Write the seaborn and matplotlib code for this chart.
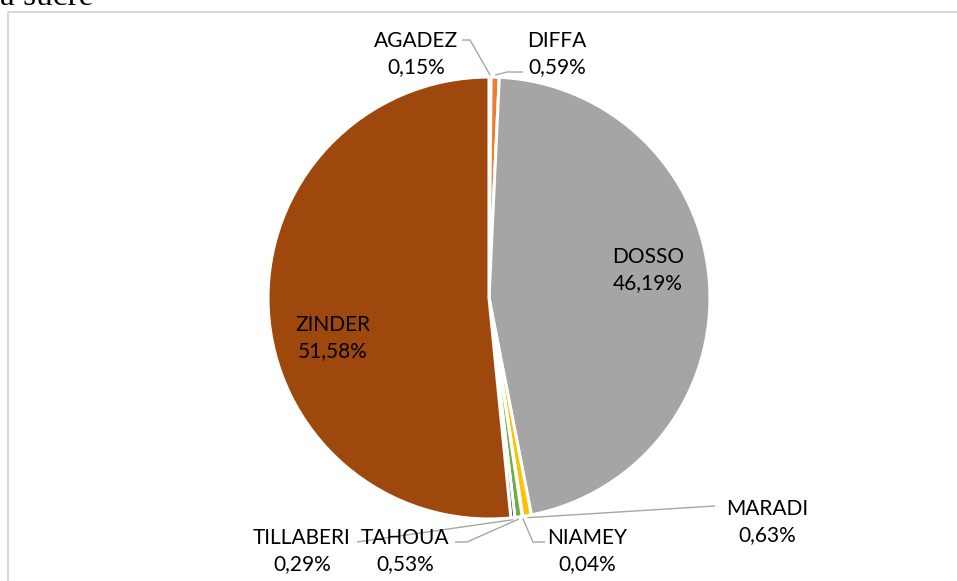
import matplotlib
matplotlib.use("Agg")
import numpy as np
import matplotlib.pyplot as plt
import seaborn as sns

# données : répartition par région (%)
regions = ["AGADEZ", "DIFFA", "DOSSO", "MARADI", "NIAMEY", "TAHOUA", "TILLABERI", "ZINDER"]
shares = [0.15, 0.59, 46.19, 0.63, 0.04, 0.53, 0.29, 51.58]
colors = ["#4472C4", "#ED7D31", "#A5A5A5", "#FFC000", "#5B9BD5", "#70AD47", "#264478", "#9E480E"]

sns.set_style("white")
plt.rcParams['font.family'] = ['Lato', 'DejaVu Sans']

W, H = 957, 581
fig = plt.figure(figsize=(W / 100, H / 100), dpi=100)
ax = fig.add_axes([0, 0, 1, 1])

cx, cy, R = 489, H - 298, 221
wedges, _ = ax.pie(shares, colors=colors, startangle=90, counterclock=False,
                   center=(cx, cy), radius=R,
                   wedgeprops=dict(edgecolor="white", linewidth=2.2))

ax.set_xlim(0, W)
ax.set_ylim(0, H)
ax.set_aspect("auto")
ax.axis("off")

# position des étiquettes (pixels depuis le haut) et coudes des lignes de rappel
label_pos = {
    "AGADEZ": (416, 54),
    "DIFFA": (557, 54),
    "DOSSO": (648, 270),
    "MARADI": (767, 522),
    "NIAMEY": (587, 551),
    "TAHOUA": (405, 551),
    "TILLABERI": (302, 551),
    "ZINDER": (333, 338),
}
leaders = {
    "AGADEZ": [(462, 40), (470, 40)],
    "DIFFA": [(523, 72), (507, 72)],
    "MARADI": [(715, 506)],
    "NIAMEY": [(545, 542), (533, 542)],
    "TAHOUA": [(455, 542), (467, 542)],
    "TILLABERI": [(357, 542)],
}

for name, share, w in zip(regions, shares, wedges):
    tx, ty = label_pos[name]
    txt = f"{name}\n{share:.2f}%".replace(".", ",")
    ax.text(tx, H - ty, txt, ha="center", va="center", fontsize=15,
            color="black", linespacing=1.35)
    if name in leaders:
        mid = np.deg2rad((w.theta1 + w.theta2) / 2)
        ex, ey = cx + (R + 2) * np.cos(mid), cy + (R + 2) * np.sin(mid)
        pts = [(x, H - y) for x, y in leaders[name]] + [(ex, ey)]
        ax.plot([p[0] for p in pts], [p[1] for p in pts], color="#A6A6A6", lw=1.0,
                solid_capstyle="butt")

# cadre du graphique (coupé à droite et en bas)
ax.plot([8, 8, W + 5], [-5, H - 12, H - 12], color="#D9D9D9", lw=1.5)

# titre coupé en haut
ax.text(0, H - 5, "à sucre", fontsize=24, family="Liberation Serif",
        ha="left", va="baseline", color="black")

fig.savefig("out.png", dpi=100)
